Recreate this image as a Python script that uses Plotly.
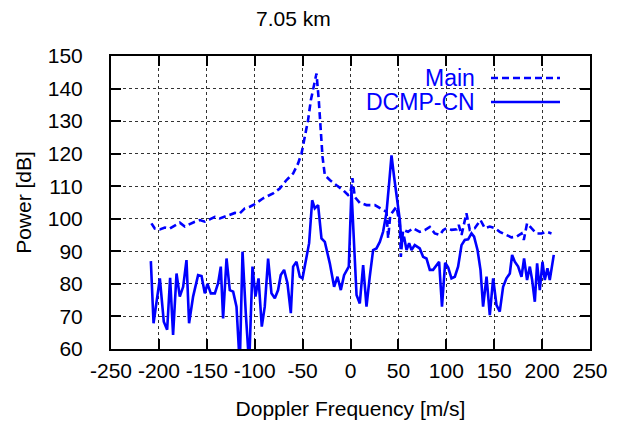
import plotly.graph_objects as go

# Main (dashed)
main_f = [-207.8, -204.3, -199.0, -193.8, -188.6, -183.4, -178.2, -173.0, -167.8, -162.5,
          -157.3, -152.1, -146.9, -141.6, -136.4, -131.2, -126.0, -120.7, -115.5, -110.3,
          -105.1, -99.9, -91.2, -80.8, -73.8, -66.8, -59.9, -54.7, -51.1, -47.7,
          -44.3, -41.4, -38.3, -35.5, -33.1, -31.0, -29.2, -26.8, -21.6, -14.6,
          -7.7, -2.5, 0.0, 2.0, 4.5, 9.7, 16.7, 25.4, 30.6, 37.6,
          39.3, 41.5, 48.0, 51.5, 52.5, 54.9, 60.1, 65.3, 72.3, 77.6,
          82.8, 88.0, 93.2, 96.7, 100.2, 105.4, 110.9, 113.0, 115.9, 121.0,
          124.5, 129.7, 135.7, 140.2, 145.4, 150.7, 155.8, 162.8, 168.0, 173.2,
          178.5, 180.9, 184.3, 188.9, 194.1, 199.4, 204.6, 209.8]
main_p = [98.6, 97.0, 96.7, 97.3, 97.0, 97.8, 98.8, 97.6, 98.4, 99.1,
          99.6, 99.1, 99.8, 100.6, 100.1, 100.6, 101.3, 101.8, 101.7, 103.2,
          103.7, 104.5, 106.3, 107.8, 109.3, 111.9, 113.9, 117.0, 120.1, 125.2,
          130.3, 136.4, 140.5, 144.6, 136.4, 128.2, 119.0, 113.4, 111.9, 110.3,
          108.8, 107.3, 107.8, 112.5, 106.7, 104.9, 104.2, 104.2, 103.2, 102.1,
          94.0, 101.1, 103.7, 98.1, 88.3, 96.6, 96.0, 97.1, 96.0, 96.5,
          97.5, 95.5, 95.0, 96.5, 97.1, 96.6, 96.8, 98.1, 95.0, 101.7,
          96.6, 97.1, 99.6, 97.1, 97.6, 97.1, 96.0, 95.0, 94.3, 94.5,
          95.5, 93.5, 98.6, 97.1, 95.5, 95.5, 96.0, 95.5]

# DCMP-CN (solid)
dcmp_f = [-208.4, -205.6, -199.0, -194.9, -191.4, -188.3, -185.2, -181.6, -178.2, -174.7,
          -171.2, -168.5, -164.3, -159.1, -155.5, -152.1, -149.3, -145.8, -141.6, -138.2,
          -135.4, -133.0, -129.4, -126.0, -122.5, -119.0, -115.6, -112.7, -109.3, -105.8,
          -102.3, -99.2, -96.0, -92.6, -89.5, -86.0, -82.5, -79.0, -75.6, -72.8,
          -69.3, -65.8, -62.3, -59.9, -56.4, -52.9, -50.1, -45.9, -43.2, -40.0,
          -37.3, -33.8, -30.3, -26.8, -21.6, -17.1, -13.6, -10.1, -6.7, -1.8,
          1.0, 6.3, 9.7, 13.2, 16.7, 20.1, 23.6, 27.1, 30.6, 34.0,
          37.5, 40.3, 42.8, 45.5, 48.6, 51.5, 53.2, 55.9, 58.5, 61.2,
          63.7, 67.1, 72.3, 75.8, 79.3, 82.8, 86.2, 89.8, 92.5, 95.5,
          98.8, 102.0, 105.4, 108.9, 112.3, 115.9, 119.3, 122.8, 126.3, 129.0,
          132.6, 135.7, 138.4, 142.0, 145.4, 148.9, 152.4, 155.8, 159.3, 162.8,
          166.3, 168.7, 171.5, 175.0, 178.5, 181.2, 184.3, 187.2, 189.6, 192.4,
          194.8, 197.6, 200.4, 202.8, 205.6, 208.0, 212.2]
dcmp_p = [87.0, 67.9, 81.7, 68.4, 65.9, 81.9, 64.3, 83.2, 76.1, 79.1,
          87.3, 67.9, 76.1, 82.7, 82.4, 77.1, 80.0, 77.1, 77.1, 80.2,
          85.3, 69.4, 87.8, 78.1, 77.6, 73.0, 55.0, 89.9, 71.0, 55.0,
          85.3, 76.1, 81.7, 66.9, 73.0, 87.8, 77.1, 75.6, 78.1, 82.7,
          84.3, 80.2, 71.0, 85.3, 86.8, 82.2, 81.7, 88.3, 92.5, 105.7,
          103.2, 104.2, 94.0, 92.9, 86.3, 79.1, 82.2, 78.1, 82.7, 85.3,
          108.8, 76.6, 74.0, 85.8, 73.0, 82.2, 90.4, 90.9, 92.9, 96.0,
          101.7, 110.9, 119.5, 112.9, 105.2, 99.6, 92.5, 94.5, 90.4, 92.5,
          90.4, 91.9, 90.9, 88.3, 87.8, 84.3, 84.3, 85.8, 86.8, 73.0,
          86.5, 85.0, 81.7, 82.2, 85.3, 91.9, 93.5, 93.7, 95.5, 94.5,
          90.4, 84.3, 73.0, 82.2, 70.4, 81.7, 73.5, 71.5, 79.1, 81.7,
          83.2, 88.9, 86.8, 85.3, 82.2, 87.8, 81.2, 85.3, 81.2, 74.5,
          86.3, 78.1, 86.8, 81.2, 84.8, 81.2, 88.9]

x_ticks = [-250, -200, -150, -100, -50, 0, 50, 100, 150, 200, 250]
y_ticks = [60, 70, 80, 90, 100, 110, 120, 130, 140, 150]

BLUE = "#0000ff"
FONT = "Liberation Sans, Arial, sans-serif"

W, H = 626, 426
L, R, T, B = 111, 36, 56, 77
pw, ph = W - L - R, H - T - B

def px_x(p):
    return (p - L) / pw

def px_y(p):
    return (H - B - p) / ph

fig = go.Figure()
fig.add_trace(go.Scatter(x=main_f, y=main_p, mode="lines", name="Main",
                         line=dict(color=BLUE, width=2.6, dash="7px,4px"), showlegend=False))
fig.add_trace(go.Scatter(x=dcmp_f, y=dcmp_p, mode="lines", name="DCMP-CN",
                         line=dict(color=BLUE, width=2.6), showlegend=False))

# legend (drawn manually so the sample sits right of the label, as in the reference)
shapes = [
    dict(type="rect", xref="paper", yref="paper", layer="below",
         x0=px_x(372), x1=px_x(586), y0=px_y(114), y1=px_y(62),
         fillcolor="white", line=dict(width=0)),
    dict(type="line", xref="paper", yref="paper",
         x0=px_x(491), x1=px_x(560), y0=px_y(78), y1=px_y(78),
         line=dict(color=BLUE, width=2.6, dash="7px,4px")),
    dict(type="line", xref="paper", yref="paper",
         x0=px_x(491), x1=px_x(560), y0=px_y(102), y1=px_y(102),
         line=dict(color=BLUE, width=2.6)),
]
annotations = [
    dict(text="Main", xref="paper", yref="paper", x=px_x(477), y=px_y(78),
         xanchor="right", yanchor="middle", showarrow=False,
         font=dict(family=FONT, size=23, color=BLUE)),
    dict(text="DCMP-CN", xref="paper", yref="paper", x=px_x(477), y=px_y(102),
         xanchor="right", yanchor="middle", showarrow=False,
         font=dict(family=FONT, size=23, color=BLUE)),
    dict(text="7.05 km", xref="paper", yref="paper", x=px_x(293), y=px_y(19),
         xanchor="center", yanchor="middle", showarrow=False,
         font=dict(family=FONT, size=21, color="black")),
]

axis_common = dict(
    automargin=False,
    showline=True, linecolor="black", linewidth=2, mirror="ticks",
    ticks="inside", ticklen=10, tickwidth=2, tickcolor="black",
    showgrid=True, gridcolor="#333333", gridwidth=1, griddash="dot",
    zeroline=False, tickfont=dict(family=FONT, size=21, color="black"),
)

fig.update_layout(
    width=W, height=H,
    margin=dict(l=L, r=R, t=T, b=B, pad=0),
    paper_bgcolor="white", plot_bgcolor="white",
    font=dict(family=FONT, size=21, color="black"),
    shapes=shapes, annotations=annotations,
    xaxis=dict(range=[-250, 250], tickvals=x_ticks, ticktext=[str(v) for v in x_ticks],
               title=dict(text="Doppler Frequency [m/s]", font=dict(family=FONT, size=21), standoff=20),
               ticklabelstandoff=2, **axis_common),
    yaxis=dict(range=[60, 150], tickvals=y_ticks, ticktext=[str(v) for v in y_ticks],
               title=dict(text="Power [dB]", font=dict(family=FONT, size=21), standoff=10),
               ticklabelstandoff=22, **axis_common),
)

fig.write_html("out.html", post_script="document.body.style.margin='0';",
               config={"displayModeBar": False})
